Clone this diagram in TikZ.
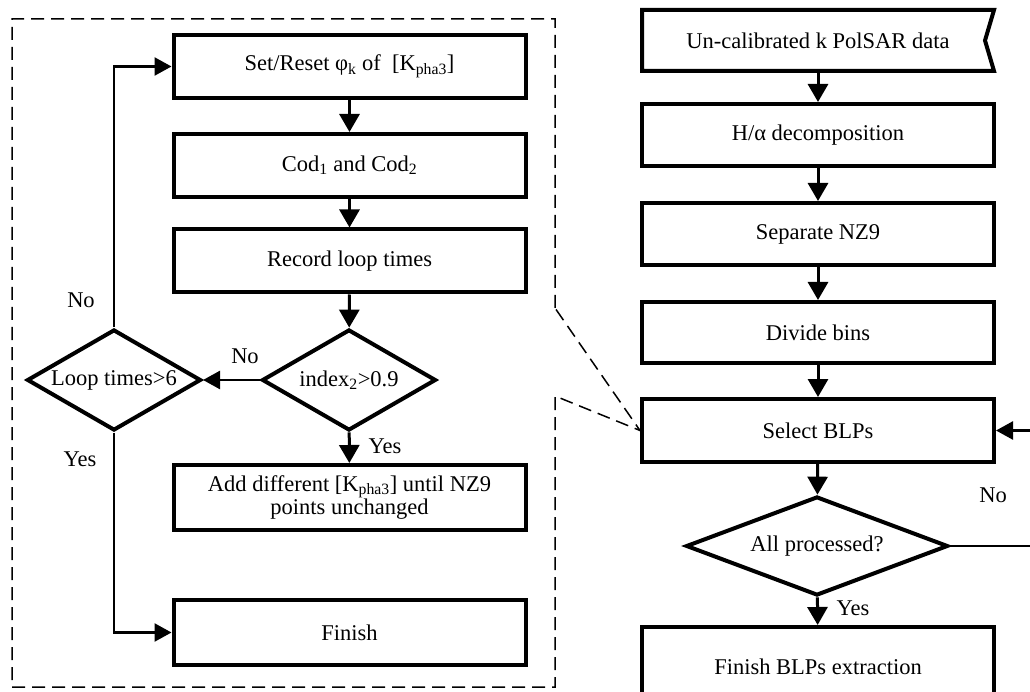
\documentclass[tikz,border=0pt]{standalone}
\usepackage{fontspec}
\setmainfont{Liberation Serif}
\usetikzlibrary{arrows.meta,shapes.geometric}
\begin{document}
\begin{tikzpicture}[x=1pt,y=-1pt,
  every node/.style={font=\fontsize{22.5}{20}\selectfont},
  procbox/.style={draw, line width=4pt, rectangle, minimum width=352pt, minimum height=63pt, inner sep=0pt, align=center},
  decbox/.style={draw, line width=4pt, diamond, aspect=2, inner sep=0pt},
  flow/.style={line width=3pt, -{Triangle[length=18pt,width=20pt]}},
  sidearrow/.style={line width=2.5pt, -{Triangle[length=17pt,width=18pt]}},
  lbl/.style={inner sep=0pt},
  zone/.style={line width=1.5pt, dash pattern=on 13pt off 7pt}
]
\useasboundingbox (0,0) rectangle (1030,692);
\clip (0,0) rectangle (1030,692);

% left column
\node[procbox] (set) at (349.5,66.5) {Set/Reset φ\textsubscript{k} of\enspace[K\textsubscript{pha3}]};
\node[procbox] (cod) at (349.5,165.5) {Cod\textsubscript{1} and Cod\textsubscript{2}};
\node[procbox] (rec) at (349.5,261) {Record loop times};
\node[decbox, minimum width=174pt, minimum height=101pt] (idx) at (349,380) {index\textsubscript{2}>0.9};
\node[decbox, minimum width=174pt, minimum height=101pt] (loop) at (114,380) {Loop times>6};
\node[procbox, minimum height=65pt] (add) at (349.5,497.5) {Add different [K\textsubscript{pha3}] until NZ9\\points unchanged};
\node[procbox, minimum height=65pt] (fin) at (349.5,632.5) {Finish};

% right column
\node[procbox, draw=none, outer sep=0pt, minimum height=61pt] (uncal) at (818,40.5) {Un-calibrated k PolSAR data};
\draw[line width=4pt, line join=miter] (uncal.north west) -- (uncal.north east) -- ([xshift=-9pt]uncal.east) -- (uncal.south east) -- (uncal.south west) -- cycle;
\node[procbox, minimum height=62pt] (ha) at (818,135) {H/α decomposition};
\node[procbox, minimum height=62pt] (sep) at (818,234) {Separate NZ9};
\node[procbox, minimum height=61pt] (div) at (818,332.5) {Divide bins};
\node[procbox, minimum height=63pt] (sel) at (818,430.5) {Select BLPs};
\node[decbox, minimum width=262pt, minimum height=99pt] (allp) at (817,546) {All processed?};
\node[procbox, minimum height=80pt] (finb) at (818,667) {Finish BLPs extraction};

% connectors left
\draw[flow] (set) -- (cod);
\draw[flow] (cod) -- (rec);
\draw[flow] (rec) -- (idx);
\draw[flow] (idx) -- (add);
\draw[sidearrow] (idx.west) -- (loop.east);
\draw[sidearrow] (loop.north) |- (set.west);
\draw[sidearrow] (loop.south) |- (fin.west);

% connectors right
\draw[flow] (uncal.south) -- (ha);
\draw[flow] (ha) -- (sep);
\draw[flow] (sep) -- (div);
\draw[flow] (div) -- (sel);
\draw[flow] (sel) -- (allp);
\draw[flow] (allp) -- (finb);
\coordinate (r1) at (1045,546);
\draw[sidearrow] (allp.east) -- (r1) |- (sel.east);

% labels
\node[lbl] (no1) at (81,300) {No};
\node[lbl] (no2) at (245,356) {No};
\node[lbl] (yes1) at (80,459) {Yes};
\node[lbl] (yes2) at (385,446) {Yes};
\node[lbl] (no3) at (993,495) {No};
\node[lbl] (yes3) at (853,608) {Yes};

% dashed zoom region
\coordinate (zc1) at (555,308);
\coordinate (zc2) at (555,396);
\coordinate (zTR) at (555,19);
\coordinate (zTL) at (12,19);
\coordinate (zBL) at (12,687);
\coordinate (zBR) at (555,687);
\draw[zone] (zc1) -- (zTR) -- (zTL) -- (zBL) -- (zBR) -- (zc2) -- (sel.west) -- cycle;
\end{tikzpicture}
\end{document}
